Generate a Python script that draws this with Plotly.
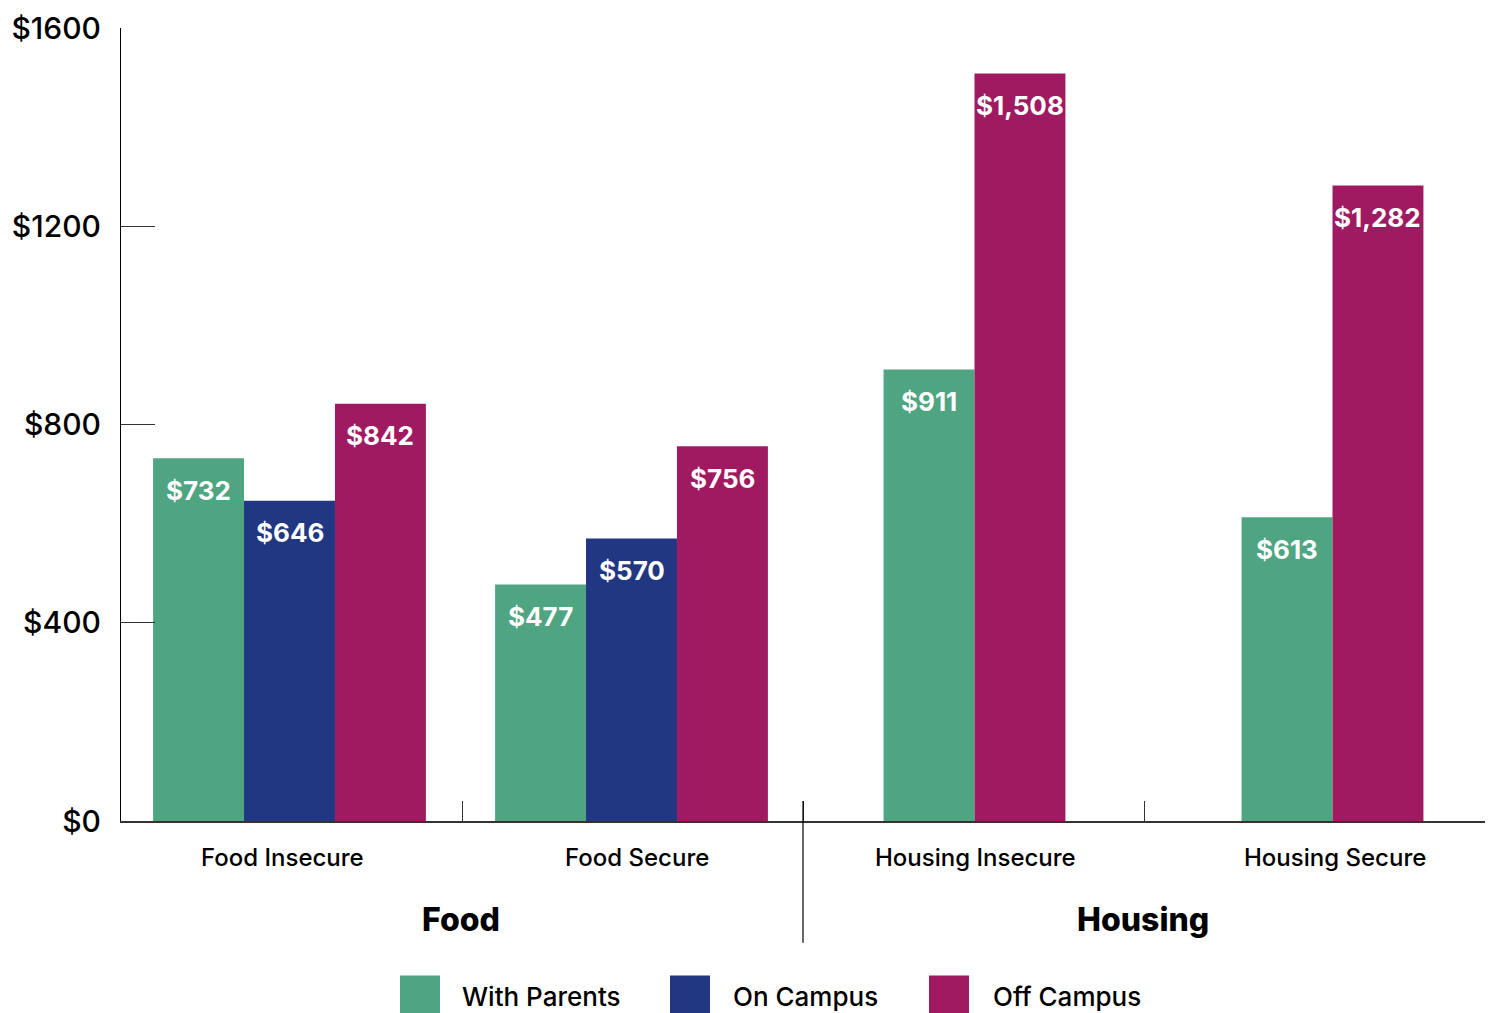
import plotly.graph_objects as go

# ---- data ----
categories = ["Food Insecure", "Food Secure", "Housing Insecure", "Housing Secure"]
group_names = ["Food", "Housing"]
group_of_category = ["Food", "Food", "Housing", "Housing"]
series_names = ["With Parents", "On Campus", "Off Campus"]
with_parents = [732, 477, 911, 613]
on_campus = [646, 570, None, None]
off_campus = [842, 756, 1508, 1282]
y_tickvals = [0, 400, 800, 1200, 1600]
y_ticktext = ["$0", "$400", "$800", "$1200", "$1600"]

# ---- style ----
colors = ["#4FA482", "#213782", "#A01A62"]
FONT = "Inter"
W, H = 1494, 1013
L, R, T, B = 121, 9, 26, 192
plot_w = W - L - R
plot_h = H - T - B
cat_px = plot_w / len(categories)
bar_nudge_px = [-2, -1, 1, 18]      # small horizontal nudges of bar clusters
label_nudge_px = [-9, 4, 2, 20]     # nudges of category labels

series_values = [with_parents, on_campus, off_campus]
n_series = len(series_values)
bw = 0.8 / n_series


def px_x(p):
    return (p - L) / plot_w


def px_y(p):
    return (H - B - p) / plot_h


# compute centred offsets for present bars in each category
offsets = [[None] * len(categories) for _ in series_values]
for i in range(len(categories)):
    present = [k for k in range(n_series) if series_values[k][i] is not None]
    start = -len(present) * bw / 2 + bar_nudge_px[i] / cat_px
    for j, k in enumerate(present):
        offsets[k][i] = start + j * bw

fig = go.Figure()
annotations = []
for k, (name, vals) in enumerate(zip(series_names, series_values)):
    fig.add_trace(go.Bar(
        name=name,
        x=categories,
        y=vals,
        width=bw,
        offset=[o if o is not None else 0 for o in offsets[k]],
        marker=dict(color=colors[k], line=dict(width=0)),
        showlegend=False,
        hoverinfo="x+y+name",
    ))
    for i, v in enumerate(vals):
        if v is None:
            continue
        annotations.append(dict(
            x=i + offsets[k][i] + bw / 2, y=v, xref="x", yref="y",
            text=f"${v:,}", showarrow=False, yshift=-32,
            xanchor="center", yanchor="middle",
            font=dict(family=FONT, size=26, color="white", weight=700),
        ))

# category labels
for i, cat in enumerate(categories):
    annotations.append(dict(
        x=i, y=0, xref="x", yref="paper", yshift=-36, xshift=label_nudge_px[i],
        text=cat, showarrow=False, xanchor="center", yanchor="middle",
        font=dict(family=FONT, size=24, color="black", weight=500),
    ))

# group labels
for gname in group_names:
    idx = [i for i, g in enumerate(group_of_category) if g == gname]
    centre = (idx[0] + idx[-1]) / 2
    annotations.append(dict(
        x=centre, y=0, xref="x", yref="paper", yshift=-98, xshift=-1,
        text=gname, showarrow=False, xanchor="center", yanchor="middle",
        font=dict(family=FONT, size=32, color="black", weight=800),
    ))

shapes = []
# divider between groups
for gi in range(len(group_names) - 1):
    last = max(i for i, g in enumerate(group_of_category) if g == group_names[gi])
    shapes.append(dict(
        type="line", xref="x", yref="paper",
        x0=last + 0.5, x1=last + 0.5, y0=px_y(801), y1=px_y(943),
        line=dict(color="black", width=1.2),
    ))

# manual legend
legend_sq_x = [400, 670, 929]
legend_txt_x = [460, 731, 991]
for k, name in enumerate(series_names):
    shapes.append(dict(
        type="rect", xref="paper", yref="paper",
        x0=px_x(legend_sq_x[k]), x1=px_x(legend_sq_x[k] + 40),
        y0=px_y(976), y1=px_y(1016),
        fillcolor=colors[k], line=dict(width=0),
    ))
    annotations.append(dict(
        x=px_x(legend_txt_x[k]), y=px_y(997), xref="paper", yref="paper",
        text=name, showarrow=False, xanchor="left", yanchor="middle",
        font=dict(family=FONT, size=26, color="black", weight=500),
    ))

fig.update_layout(
    width=W, height=H,
    margin=dict(l=L, r=R, t=T, b=B, pad=0),
    paper_bgcolor="white", plot_bgcolor="white",
    barmode="overlay",
    showlegend=False,
    annotations=annotations,
    shapes=shapes,
    font=dict(family=FONT, color="black"),
    xaxis=dict(
        type="category", categoryorder="array", categoryarray=categories,
        range=[-0.5, len(categories) - 0.5],
        showline=True, linecolor="#333", linewidth=1.5,
        ticks="inside", tickson="boundaries", ticklen=20, tickcolor="#333", tickwidth=1.2,
        showgrid=False, zeroline=False,
        showticklabels=False,
    ),
    yaxis=dict(
        range=[0, 1600],
        tickvals=y_tickvals, ticktext=y_ticktext,
        showline=True, linecolor="black", linewidth=1.2,
        ticks="inside", ticklen=34, tickcolor="#333", tickwidth=1,
        showgrid=False, zeroline=False,
        tickfont=dict(family=FONT, size=30, color="black", weight=500),
        ticklabelstandoff=13,
    ),
)

fig.write_html(
    "out.html",
    config={"displayModeBar": False},
    post_script="document.body.style.margin='0';document.body.style.overflow='hidden';",
)
